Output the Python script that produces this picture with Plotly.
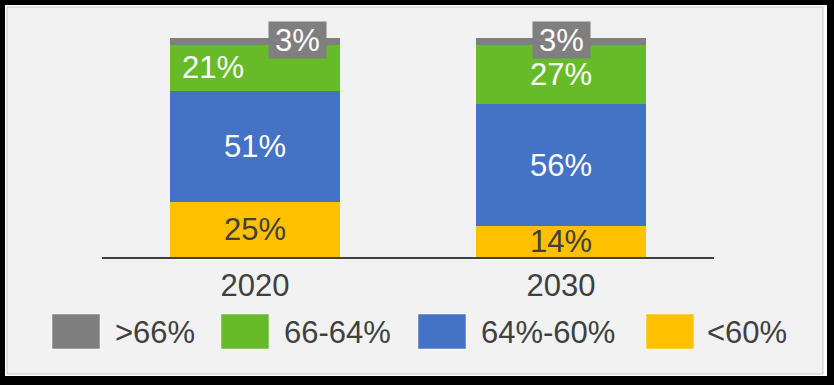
import plotly.graph_objects as go

# ---- data ----
years = ["2020", "2030"]
series_names = [">66%", "66-64%", "64%-60%", "<60%"]
share_gt66 = [3, 3]
share_66_64 = [21, 27]
share_64_60 = [51, 56]
share_lt60 = [25, 14]

colors = {">66%": "#7f7f7f", "66-64%": "#67bb28", "64%-60%": "#4472c4", "<60%": "#ffc000"}
label_colors = {">66%": "#ffffff", "66-64%": "#ffffff", "64%-60%": "#ffffff", "<60%": "#404040"}

# stacking order bottom -> top
stack = [("<60%", share_lt60), ("64%-60%", share_64_60), ("66-64%", share_66_64), (">66%", share_gt66)]

W, H = 834, 385
L, R, T, B = 102, 120, 38, 128
PW, PH = W - L - R, H - T - B
FONT = "Liberation Sans, Arial, sans-serif"
DARK = "#404040"


def px(x):
    return (x - L) / PW


def py(y):
    return (H - B - y) / PH


fig = go.Figure()
for name, vals in stack:
    fig.add_trace(go.Bar(x=years, y=vals, name=name, marker=dict(color=colors[name], line=dict(width=0)),
                         showlegend=False, hoverinfo="skip"))

annotations = []
base = [0, 0]
for name, vals in stack:
    for i, yr in enumerate(years):
        mid = base[i] + vals[i] / 2
        txt = f"{vals[i]}%"
        if name == ">66%":
            annotations.append(dict(x=i, y=mid, xref="x", yref="y", text=txt, showarrow=False,
                                    font=dict(family=FONT, size=31, color="#ffffff"),
                                    bgcolor="#7f7f7f", width=57, height=36, borderpad=0,
                                    xshift=42.5 if i == 0 else 0, yshift=1))
        else:
            annotations.append(dict(x=i, y=mid, xref="x", yref="y", text=txt, showarrow=False,
                                    font=dict(family=FONT, size=31, color=label_colors[name]),
                                    xshift=-42.5 if (name == "66-64%" and i == 0) else 0))
        base[i] += vals[i]

# ---- frame / border ----
shapes = [
    dict(type="rect", xref="paper", yref="paper", x0=px(5), x1=px(827), y0=py(5), y1=py(376),
         fillcolor="#ffffff", line=dict(width=0), layer="below"),
    dict(type="rect", xref="paper", yref="paper", x0=px(7), x1=px(823), y0=py(7), y1=py(374),
         fillcolor="#f2f2f2", line=dict(color="#c8c8c8", width=1), layer="below"),
]

# ---- manual legend ----
legend_order = [">66%", "66-64%", "64%-60%", "<60%"]
sw_x = [52, 221, 418, 646]
tx_x = [113, 282, 479, 705]
for name, sx, tx in zip(legend_order, sw_x, tx_x):
    shapes.append(dict(type="rect", xref="paper", yref="paper", x0=px(sx), x1=px(sx + 48),
                       y0=py(314), y1=py(349), fillcolor=colors[name],
                       line=dict(color="rgba(255,255,255,0.5)", width=1)))
    annotations.append(dict(x=px(tx), y=py(332), xref="paper", yref="paper", text=name,
                            showarrow=False, xanchor="left", yanchor="middle",
                            font=dict(family=FONT, size=31, color=DARK)))

fig.update_layout(
    width=W, height=H,
    margin=dict(l=L, r=R, t=T, b=B, pad=0),
    paper_bgcolor="#000000",
    plot_bgcolor="rgba(0,0,0,0)",
    barmode="stack",
    bargap=0.444,
    showlegend=False,
    shapes=shapes,
    annotations=annotations,
    xaxis=dict(type="category", range=[-0.5, 1.5], showline=True, linecolor=DARK, linewidth=2,
               ticks="", showgrid=False, zeroline=False,
               tickfont=dict(family=FONT, size=31, color=DARK)),
    yaxis=dict(range=[0, 100], visible=False, showgrid=False, zeroline=False),
)

fig.write_html("out.html", config={"displayModeBar": False, "staticPlot": True},
               post_script="document.body.style.margin='0';document.body.style.overflow='hidden';")
